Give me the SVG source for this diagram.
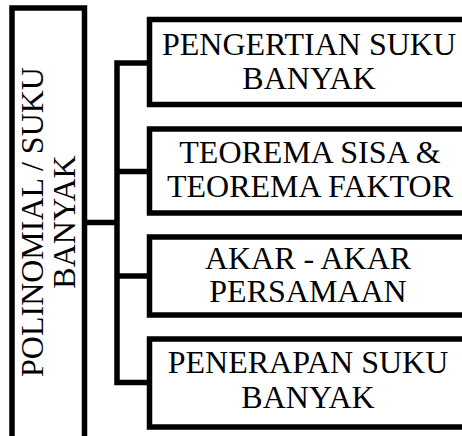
<svg xmlns="http://www.w3.org/2000/svg" width="462" height="436" viewBox="0 0 462 436">
<style>
.box{fill:#fff;stroke:#000;stroke-width:5.5}
.conn{fill:none;stroke:#000;stroke-width:5.5;stroke-linejoin:miter}
text{font-family:"Liberation Serif","Times New Roman",serif;font-size:32px;fill:#000;text-anchor:middle}
</style>
<rect width="462" height="436" fill="#fff"/>
<g id="connectors">
<path class="conn" d="M147,63 H117 V382.5 H147"/>
<path class="conn" d="M117,171.5 H147"/>
<path class="conn" d="M117,276 H147"/>
<path class="conn" d="M85,222.5 H117"/>
</g>
<g id="root">
<rect class="box" x="12" y="8" width="72.5" height="440"/>
<text transform="translate(42.7,222) rotate(-90)"><tspan x="0" y="0">POLINOMIAL / SUKU</tspan><tspan x="0" dy="32.3">BANYAK</tspan></text>
</g>
<g id="n1">
<rect class="box" x="149.5" y="19.5" width="330" height="85"/>
<text x="309" y="54.5">PENGERTIAN SUKU<tspan x="309" dy="34">BANYAK</tspan></text>
</g>
<g id="n2">
<rect class="box" x="149.5" y="129" width="330" height="84"/>
<text x="310" y="163">TEOREMA SISA &amp;<tspan x="310" dy="34">TEOREMA FAKTOR</tspan></text>
</g>
<g id="n3">
<rect class="box" x="149.5" y="237" width="330" height="78"/>
<text x="308" y="269">AKAR - AKAR<tspan x="308" dy="33">PERSAMAAN</tspan></text>
</g>
<g id="n4">
<rect class="box" x="149.5" y="339" width="330" height="88"/>
<text x="308" y="373">PENERAPAN SUKU<tspan x="308" dy="35">BANYAK</tspan></text>
</g>
</svg>
